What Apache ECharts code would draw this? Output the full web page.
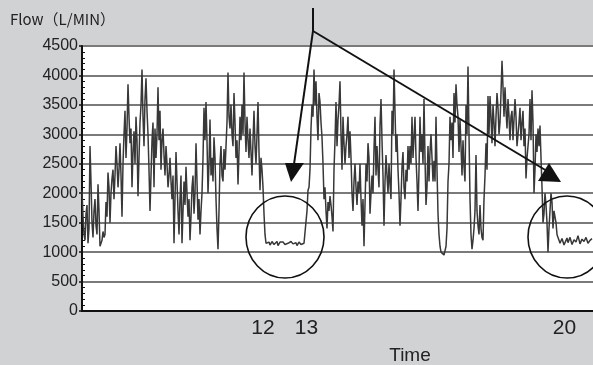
<!DOCTYPE html>
<html><head><meta charset="utf-8">
<script src="https://cdn.jsdelivr.net/npm/echarts@6/dist/echarts.min.js"></script>
<style>html,body{margin:0;padding:0;background:#d1d2d4;overflow:hidden}#c{width:593px;height:365px}</style>
</head><body><div id="c"></div>
<script>
// Flow readings (L/MIN): samples at even time steps
const flowEven = [
2050,1300,1650,1150,2800,1500,1700,1450,2150,1100,
1200,1250,1850,2350,1500,2250,1900,2800,2100,2850,
1600,3000,2600,3850,2850,2100,3050,3300,1950,3200,
4100,2800,3950,3000,1700,2900,2100,2600,3800,3400,
2900,2650,2800,2100,2600,1900,1150,2700,1700,
1900,1150,2200,2450,1600,1200,2100,1650,2850,1550,
1300,2000,3450,3550,2000,3250,2600,2950,1900,1050,
2500,2300,2750,2800,4050,3100,3000,3700,2600,2150,
3300,3500,4050,2700,2900,3100,2300,3400,2500,3550,
2050,2400,1650,1150,
1150,1120,1180,1130,1160,1110,1170,1140,1190,1120,1150,1130,1170,1110,1160,1140,1180,1130,1150,
1150,2050,2400,3500,4100,3900,2900,3550,2950,1900,
1700,1850,1950,1600,2400,3550,3250,3900,2400,2850,
2800,3300,3050,2000,2200,2100,2200,2500,1450,1100,
2500,2850,
1650,2300,2750,2300,2400,3150,2900,1450,2650,2000,
2150,3400,4100,2700,2400,1450,2450,2100,2400,2800,
2800,3300,2950,2600,1700,3300,3000,3600,1800,2800,
2700,2600,2550,3300,1650,1100,970,950,1100,2200,
3300,3200,3700,3850,3300,3250,2300,2450,
3500,4150,1900,1050,1400,2650,1450,1800,1250,1900,
2850,3650,3650,2850,3200,3300,3450,3200,4250,3300,
3400,3600,2900,3400,3250,3300,3000,3450,3200,2800,
2250,2800,3600,3750,2000,3000,3100,3150,2100,1650,
1800,1000,1700,1850,1700,1500,1250,
1150,1230,1120,1200,1160,1250,1130,1210,1170,1280,1140,1220,1180,1250,1150,1200,1230
];
// Flow readings (L/MIN): samples at the odd time steps in between
const flowOdd = [
1600,1200,1800,1400,2200,1250,1900,1300,1700,1150,
1350,1300,1600,2100,2000,2400,2300,2500,2400,2300,
2500,3400,3100,3300,3100,2700,2500,2900,2600,3500,
3300,3600,3400,2400,2300,3200,3100,3000,2900,2400,
3100,2300,2500,2300,2200,2300,1900,2200,1300,2300,
1700,1800,2000,1900,1600,2300,2000,2200,1900,1700,
2600,2900,2900,2500,2300,2200,2600,1400,1700,2800,
2200,2400,3200,3300,3500,2800,3200,2900,2700,2900,
3000,3200,3300,2600,2700,2900,2800,3000,2700,2600,
2100,1300,1140,1170,1120,1160,1130,1180,1120,1150,
1170,1130,1160,1120,1180,1140,1150,1110,1170,1130,
1160,1140,1700,2100,3100,3300,3500,3300,3700,3200,
2500,2100,1400,1700,1800,1350,2900,2800,3500,3000,
3300,2500,3000,2600,2600,1700,2500,1800,2000,1900,
1900,1800,2200,2600,2000,2000,3300,2800,2100,3600,
2300,2200,2300,2500,1900,3000,3400,3000,2000,1900,
2700,1900,2200,2400,2500,2600,3300,2200,2400,2700,
2500,2600,2100,2200,3000,2200,2200,2400,1300,1000,
1000,980,1400,2500,2900,2600,3200,3500,2700,2800,
2900,2200,3000,3000,1300,1200,1700,1700,1300,1400,
1200,2300,2400,3000,3300,3500,2800,3700,3000,3700,
3800,3800,3100,3300,3300,2900,3600,2800,3200,2900,
3400,3100,2600,3000,2900,3200,2400,2700,2800,2600,
1500,2000,1500,1400,2000,1400,1600,1300,1200,1180,
1210,1150,1240,1190,1270,1160,1230,1200,1260,1150,
1240,1190,1220,1170,1210
];
const xTickPos = [181, 224.5, 482.5];
const xTickLabels = ['12', '13', '20'];
const yMin = 0, yMax = 4500, yStep = 500;

// merge the two sample sets in time order
const flow = [];
for (let i = 0; i < flowEven.length; i++) {
  flow.push(flowEven[i]);
  if (i < flowOdd.length) flow.push(flowOdd[i]);
}
const seriesData = flow.map((v, j) => [j, v]);

const chart = echarts.init(document.getElementById('c'), null, {renderer: 'canvas'});
chart.setOption({
  animation: false,
  backgroundColor: '#d1d2d4',
  grid: {left: 82, right: 0, top: 46, bottom: 54, show: true, backgroundColor: '#ffffff', borderWidth: 0},
  xAxis: {
    type: 'value', min: 0, max: flow.length,
    axisLine: {show: true, onZero: false, lineStyle: {color: '#111', width: 2}},
    axisTick: {show: false},
    splitLine: {show: false},
    axisLabel: {
      customValues: xTickPos,
      formatter: v => { const k = xTickPos.findIndex(p => Math.abs(p - v) < 1e-6); return k >= 0 ? xTickLabels[k] : ''; },
      fontSize: 21, color: '#222', fontFamily: 'Liberation Sans', margin: 7
    }
  },
  yAxis: [{
    type: 'value', min: yMin, max: yMax, interval: yStep,
    axisLine: {show: true, lineStyle: {color: '#111', width: 2}},
    axisTick: {show: true, length: 3, lineStyle: {color: '#111', width: 1.5}},
    minorTick: {show: false},
    splitLine: {show: true, lineStyle: {color: '#7a7a7a', width: 2}},
    axisLabel: {fontSize: 16, color: '#222', fontFamily: 'Liberation Sans', margin: 4, formatter: v => String(v)}
  }, {
    type: 'value', min: yMin, max: yMax, interval: yStep, position: 'left',
    axisLine: {show: false},
    axisTick: {show: false, inside: true},
    minorTick: {show: true, splitNumber: 5, length: 3, lineStyle: {color: '#111', width: 1}},
    splitLine: {show: false},
    axisLabel: {show: false}
  }],
  series: [{
    type: 'line', data: seriesData, symbol: 'none',
    lineStyle: {color: '#383838', width: 1.5}, z: 3
  }]
});

// Annotations anchored in data space
const annoTop = [231, 5145];
const annoOrigin = [231, 4755];
const leftApex = [209, 2190];
const rightApex = [467, 2513];
const leftCircle = [203, 1257];
const rightCircle = [485, 1257];
const P = d => chart.convertToPixel({gridIndex: 0}, d);

const o = P(annoOrigin), t = P(annoTop), la = P(leftApex), ra = P(rightApex);
const lc = P(leftCircle), rc = P(rightCircle);
const stroke = {stroke: '#111', lineWidth: 2, fill: null};

chart.setOption({
  graphic: [
    {type: 'text', left: 10, top: 12, style: {text: 'Flow（L/MIN）', font: '15px "Noto Sans CJK JP"', fill: '#222'}},
    {type: 'text', x: 410, y: 356, style: {text: 'Time', font: '19px "Liberation Sans"', fill: '#222', align: 'center', verticalAlign: 'middle'}},
    {type: 'text', x: 416, y: -5, style: {text: 'Pump stop', font: '10px "Liberation Sans"', fill: '#222', align: 'left', verticalAlign: 'middle'}},
    {type: 'line', shape: {x1: t[0], y1: t[1], x2: o[0], y2: o[1]}, style: stroke, z: 10},
    {type: 'line', shape: {x1: o[0], y1: o[1], x2: la[0] + 3, y2: la[1] - 18}, style: stroke, z: 10},
    {type: 'line', shape: {x1: o[0], y1: o[1], x2: ra[0] - 2, y2: ra[1] + 8}, style: stroke, z: 10},
    {type: 'polygon', shape: {points: [[la[0], la[1]], [la[0] - 6, la[1] - 19], [la[0] + 13, la[1] - 19]]}, style: {fill: '#111'}, z: 10},
    {type: 'polygon', shape: {points: [[ra[0], ra[1]], [ra[0] - 11, ra[1] + 18], [ra[0] + 12, ra[1] + 19]]}, style: {fill: '#111'}, z: 10},
    {type: 'ellipse', shape: {cx: lc[0], cy: lc[1], rx: 39, ry: 41}, style: {stroke: '#111', lineWidth: 1.6, fill: null}, z: 10},
    {type: 'ellipse', shape: {cx: rc[0], cy: rc[1], rx: 39, ry: 41}, style: {stroke: '#111', lineWidth: 1.6, fill: null}, z: 10}
  ]
});
</script></body></html>
